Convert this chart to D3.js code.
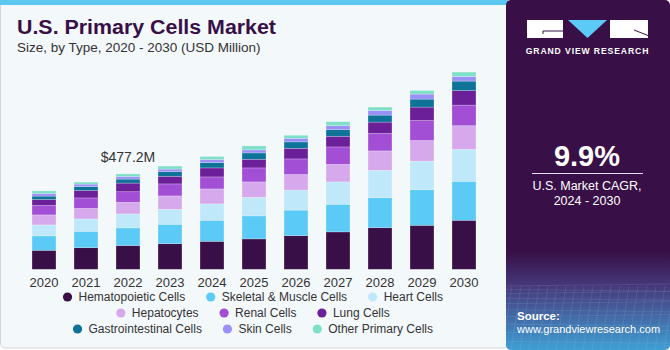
<!DOCTYPE html>
<html>
<head>
<meta charset="utf-8">
<script src="https://cdn.jsdelivr.net/npm/d3@7"></script>
<style>
  body { margin: 0; background: #fff; }
  svg { display: block; font-family: "Liberation Sans", Arial, sans-serif; }
</style>
</head>
<body>
<div id="chart"></div>
<script>
// years on the x axis
var years = ["2020", "2021", "2022", "2023", "2024", "2025", "2026", "2027", "2028", "2029", "2030"];
// USD million
var hematopoietic = [95, 108, 119, 128, 140, 152, 168, 187, 208, 220, 245];
var skeletal = [72, 82, 88, 97, 105, 115, 128, 138, 150, 178, 195];
var heart = [55, 62, 70, 75, 82, 93, 100, 112, 137, 143, 160];
var hepatocytes = [50, 53, 58, 67, 75, 77, 78, 88, 97, 103, 118];
var renal = [47, 52, 53, 60, 60, 70, 78, 87, 87, 100, 103];
var lung = [30, 37, 43, 38, 45, 43, 53, 53, 57, 67, 73];
var gastro = [17, 20, 20, 23, 27, 32, 32, 33, 35, 40, 47];
var skin = [13, 12, 13, 13, 15, 15, 18, 20, 23, 25, 23];
var other = [13, 10, 13, 15, 15, 20, 15, 20, 17, 18, 22];

var seriesNames = ["Hematopoietic Cells", "Skeletal & Muscle Cells", "Heart Cells",
  "Hepatocytes", "Renal Cells", "Lung Cells",
  "Gastrointestinal Cells", "Skin Cells", "Other Primary Cells"];
var seriesValues = [hematopoietic, skeletal, heart, hepatocytes, renal, lung, gastro, skin, other];
var colors = ["#381047", "#5ccaf6", "#bfe9fb", "#d6a9ec", "#a24fd6", "#6b1f98", "#0f7399", "#9b90f7", "#7fdfc8"];

var annoYear = "2022";
var annoText = "$477.2M";

// build rows for d3.stack
var data = years.map(function (y, i) {
  var row = { year: y };
  seriesNames.forEach(function (s, k) { row[s] = seriesValues[k][i]; });
  return row;
});

var W = 670, H = 350;
var svg = d3.select("#chart").append("svg")
  .attr("width", W)
  .attr("height", H);

var defs = svg.append("defs");
var grad = defs.append("linearGradient")
  .attr("id", "sideGrad")
  .attr("x1", 0).attr("y1", 0).attr("x2", 0).attr("y2", 1);
grad.append("stop").attr("offset", "0").attr("stop-color", "#381047");
grad.append("stop").attr("offset", "0.72").attr("stop-color", "#381047");
grad.append("stop").attr("offset", "0.82").attr("stop-color", "#463a7c");
grad.append("stop").attr("offset", "1").attr("stop-color", "#3f9fd4");

// left panel
svg.append("rect")
  .attr("x", 0.5).attr("y", 0.5)
  .attr("width", 508).attr("height", 347.5)
  .attr("rx", 5)
  .attr("fill", "#f3f8fb")
  .attr("stroke", "#d4d4d4");
svg.append("rect")
  .attr("x", 0).attr("y", 0)
  .attr("width", 508).attr("height", 5)
  .attr("fill", "#5bc7ef");

// right panel
svg.append("rect")
  .attr("x", 506).attr("y", 0)
  .attr("width", 164).attr("height", 350)
  .attr("rx", 5)
  .attr("fill", "url(#sideGrad)");

// faint grid texture at the bottom of the side panel
var gridG = svg.append("g").attr("opacity", 0.18).attr("stroke", "#cfe6ff").attr("stroke-width", 0.6);
d3.range(0, 14).forEach(function (i) {
  var yy = 286 + i * i * 0.35 + i * 3;
  if (yy < 350) gridG.append("line").attr("x1", 506).attr("x2", 670).attr("y1", yy).attr("y2", yy + (i % 2 ? 2 : -2));
});
d3.range(0, 20).forEach(function (i) {
  var xx = 506 + i * 9;
  gridG.append("line").attr("x1", xx + 6).attr("x2", xx - 4).attr("y1", 286).attr("y2", 350);
});

// title
svg.append("text")
  .attr("x", 17).attr("y", 34)
  .attr("fill", "#381047")
  .attr("textLength", 259)
  .attr("lengthAdjust", "spacingAndGlyphs")
  .style("font-size", "20px")
  .style("font-weight", "bold")
  .text("U.S. Primary Cells Market");
svg.append("text")
  .attr("x", 17).attr("y", 52)
  .attr("fill", "#333")
  .style("font-size", "13.5px")
  .text("Size, by Type, 2020 - 2030 (USD Million)");

// scales
var x = d3.scaleBand()
  .domain(years)
  .range([23, 485])
  .paddingInner(0.43)
  .paddingOuter(0.215);
var y = d3.scaleLinear()
  .domain([0, 1000])
  .range([269.3, 69.3]);

var stack = d3.stack().keys(seriesNames);
var stacked = stack(data);

var layers = svg.selectAll("g.layer")
  .data(stacked)
  .enter()
  .append("g")
  .attr("class", "layer")
  .attr("fill", function (d, i) { return colors[i]; });

layers.selectAll("rect")
  .data(function (d) { return d; })
  .enter()
  .append("rect")
  .attr("x", function (d) { return x(d.data.year); })
  .attr("y", function (d) { return y(d[1]); })
  .attr("width", x.bandwidth())
  .attr("height", function (d) { return y(d[0]) - y(d[1]); })
  .attr("stroke", "#ffffff")
  .attr("stroke-opacity", 0.3)
  .attr("stroke-width", 0.7);

// x axis labels
var xAxis = d3.axisBottom(x).tickSize(0).tickPadding(6);
var xg = svg.append("g")
  .attr("transform", "translate(0,272)")
  .call(xAxis);
xg.select(".domain").remove();
xg.selectAll("text")
  .attr("fill", "#333")
  .style("font-size", "13px")
  .style("font-family", "Liberation Sans, Arial, sans-serif");

// annotation
var annoRow = data.filter(function (d) { return d.year === annoYear; })[0];
var annoTotal = d3.sum(seriesNames, function (s) { return annoRow[s]; });
svg.append("text")
  .attr("x", x(annoYear) + x.bandwidth() / 2)
  .attr("y", y(annoTotal) - 12)
  .attr("text-anchor", "middle")
  .attr("fill", "#333")
  .style("font-size", "14px")
  .text(annoText);

// legend, three centred rows
var legendRows = [[0, 1, 2], [3, 4, 5], [6, 7, 8]];
var legendY = [297, 313, 329];
var legendCx = 253;
legendRows.forEach(function (row, r) {
  var g = svg.append("g");
  var cursor = 0;
  row.forEach(function (k, j) {
    g.append("circle")
      .attr("cx", cursor + 4.5)
      .attr("cy", legendY[r])
      .attr("r", 4.6)
      .attr("fill", colors[k]);
    var t = g.append("text")
      .attr("x", cursor + 15.5)
      .attr("y", legendY[r] + 4.3)
      .attr("fill", "#333")
      .style("font-size", "12px")
      .text(seriesNames[k]);
    cursor += 15.5 + t.node().getComputedTextLength();
    if (j < row.length - 1) cursor += 21;
  });
  g.attr("transform", "translate(" + (legendCx - cursor / 2) + ",0)");
});

// logo
var logo = svg.append("g");
logo.append("rect").attr("x", 527).attr("y", 20).attr("width", 36).attr("height", 18).attr("fill", "#fff");
logo.append("path").attr("d", "M543,34 V31 H563").attr("fill", "none").attr("stroke", "#381047").attr("stroke-width", 1);
logo.append("path").attr("d", "M568,20 H607 L587.5,38 Z").attr("fill", "#5ccaf6");
logo.append("rect").attr("x", 610).attr("y", 20).attr("width", 38).attr("height", 18).attr("fill", "#fff");
logo.append("path").attr("d", "M634,30 L648,35.5").attr("fill", "none").attr("stroke", "#381047").attr("stroke-width", 1);
logo.append("text")
  .attr("x", 587.5).attr("y", 53.5)
  .attr("text-anchor", "middle")
  .attr("fill", "#fff")
  .style("font-size", "8.6px")
  .style("font-weight", "bold")
  .style("letter-spacing", "0.9px")
  .text("GRAND VIEW RESEARCH");

// CAGR block
svg.append("text")
  .attr("x", 587).attr("y", 166)
  .attr("text-anchor", "middle")
  .attr("fill", "#fff")
  .style("font-size", "29px")
  .style("font-weight", "bold")
  .text("9.9%");
svg.append("line")
  .attr("x1", 532).attr("x2", 643)
  .attr("y1", 173.5).attr("y2", 173.5)
  .attr("stroke", "#e8e0ee")
  .attr("stroke-width", 1);
svg.append("text")
  .attr("x", 587).attr("y", 190)
  .attr("text-anchor", "middle")
  .attr("fill", "#fff")
  .style("font-size", "12.5px")
  .text("U.S. Market CAGR,");
svg.append("text")
  .attr("x", 587).attr("y", 205)
  .attr("text-anchor", "middle")
  .attr("fill", "#fff")
  .style("font-size", "12.5px")
  .text("2024 - 2030");

// source
svg.append("text")
  .attr("x", 517).attr("y", 320)
  .attr("fill", "#fff")
  .style("font-size", "11.5px")
  .style("font-weight", "bold")
  .text("Source:");
svg.append("text")
  .attr("x", 517).attr("y", 333)
  .attr("fill", "#fff")
  .style("font-size", "11px")
  .text("www.grandviewresearch.com");
</script>
</body>
</html>
